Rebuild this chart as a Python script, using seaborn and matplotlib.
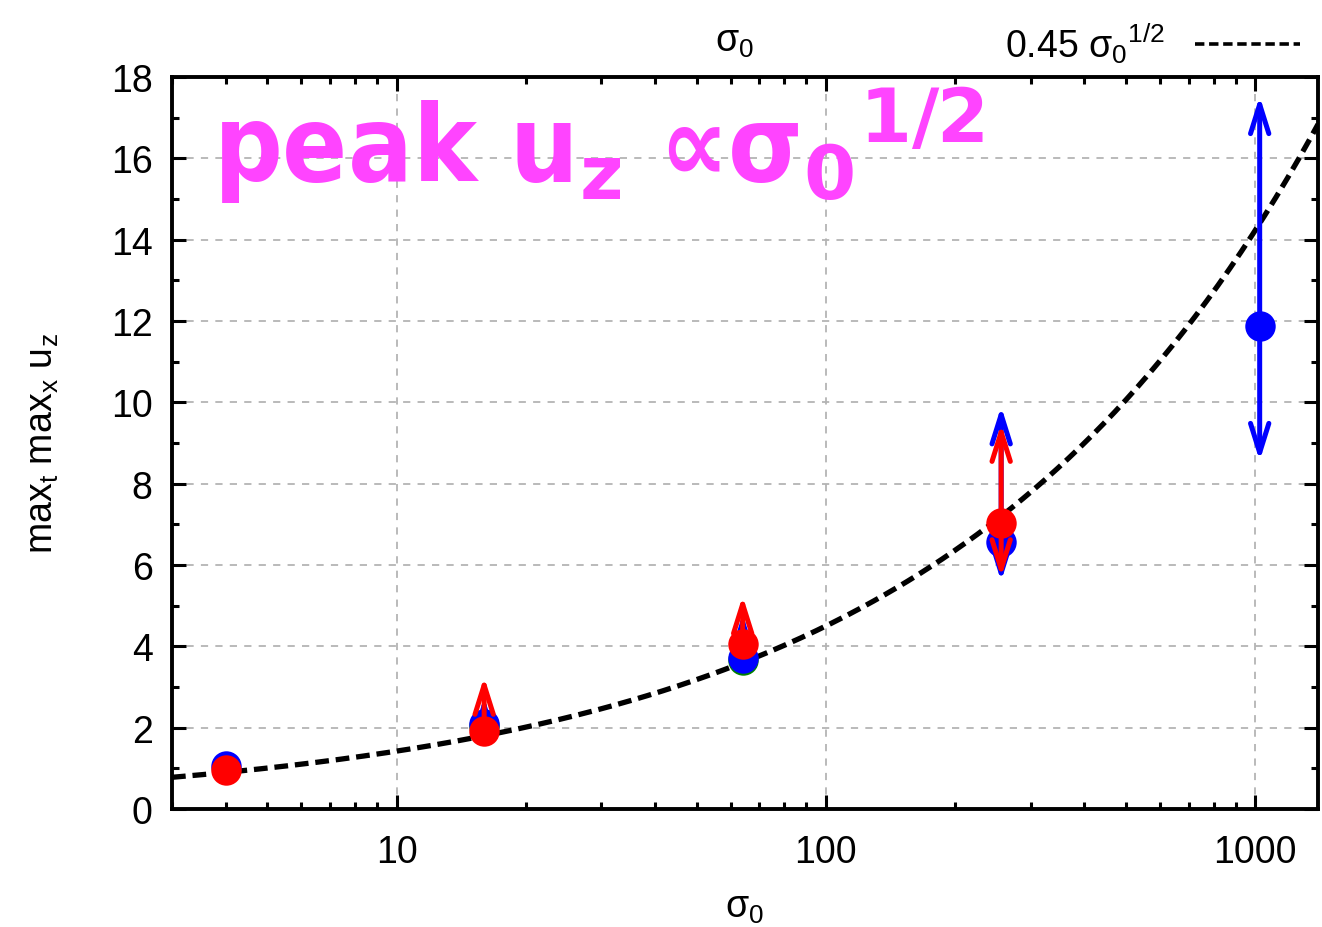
import numpy as np
import pandas as pd
import matplotlib
matplotlib.use("Agg")
import matplotlib.pyplot as plt
import matplotlib.transforms as mtransforms
import seaborn as sns
from matplotlib.ticker import MultipleLocator, LogLocator, FixedLocator, NullFormatter

# ---------------- data ----------------
sigma0 = [4, 16, 64, 256, 1024]

blue_val = [1.06, 2.09, 3.72, 6.57, 11.88]
blue_hi = [1.06, 2.75, 4.80, 9.90, 17.53]
blue_lo = [1.06, 2.09, 3.20, 5.60, 8.56]

red_sigma = [4, 16, 64, 256]
red_val = [0.95, 1.92, 4.06, 7.03]
red_hi = [0.95, 3.25, 5.24, 9.47]
red_lo = [0.95, 1.92, 4.06, 5.70]

green_sigma = [16, 64]
green_val = [2.05, 3.66]

fit_coef = 0.45
fit_sigma = np.logspace(np.log10(3), np.log10(1400), 300)

xticks = [10, 100, 1000]
yticks = [0, 2, 4, 6, 8, 10, 12, 14, 16, 18]

# ---------------- style ----------------
sns.set_style("ticks")
plt.rcParams["font.family"] = ["Liberation Sans", "DejaVu Sans"]
plt.rcParams["mathtext.fontset"] = "custom"
plt.rcParams["mathtext.rm"] = "Liberation Sans"
plt.rcParams["mathtext.it"] = "Liberation Sans:italic"
plt.rcParams["mathtext.bf"] = "DejaVu Sans:bold"
plt.rcParams["text.color"] = "black"
plt.rcParams["axes.labelcolor"] = "black"
plt.rcParams["xtick.color"] = "black"
plt.rcParams["ytick.color"] = "black"

fig = plt.figure(figsize=(13.22, 9.28), dpi=100)
ax = fig.add_axes([172/1322, 1-810/928, (1318-172)/1322, (810-78)/928])

df_fit = pd.DataFrame({"s": fit_sigma, "u": fit_coef*np.sqrt(fit_sigma)})
sns.lineplot(data=df_fit, x="s", y="u", ax=ax, color="black", linewidth=3.8,
             linestyle=(0, (2.6, 1.3)), label=r"0.45 $\mathrm{σ}_0$$^{1/2}$", zorder=3)

df_g = pd.DataFrame({"s": green_sigma, "u": green_val})
df_b = pd.DataFrame({"s": sigma0, "u": blue_val})
df_r = pd.DataFrame({"s": red_sigma, "u": red_val})

ms = 480
sns.scatterplot(data=df_g, x="s", y="u", ax=ax, color="#008000", s=ms, linewidth=0, zorder=4, legend=False)
sns.scatterplot(data=df_b, x="s", y="u", ax=ax, color="#0000ff", s=ms, linewidth=0, zorder=5, legend=False)

def arrows(xs, vals, his, los, color, z):
    for x, v, h, l in zip(xs, vals, his, los):
        for end in (h, l):
            if abs(end - v) > 1e-6:
                ax.annotate("", xy=(x, end), xytext=(x, v),
                            arrowprops=dict(arrowstyle="->,head_length=1.05,head_width=0.33",
                                            color=color, lw=3.6, shrinkA=0, shrinkB=0,
                                            mutation_scale=20),
                            zorder=z)

arrows(sigma0, blue_val, blue_hi, blue_lo, "#0000ff", 6)
arrows(red_sigma, red_val, red_hi, red_lo, "#ff0000", 7)
sns.scatterplot(data=df_r, x="s", y="u", ax=ax, color="#ff0000", s=ms, linewidth=0, zorder=8, legend=False)

ax.set_xscale("log")
ax.set_xlim(3, 1400)
ax.set_ylim(0, 18)
ax.xaxis.set_major_locator(FixedLocator(xticks))
ax.set_xticklabels([str(t) for t in xticks])
ax.xaxis.set_minor_locator(LogLocator(base=10, subs=np.arange(2, 10), numticks=20))
ax.xaxis.set_minor_formatter(NullFormatter())
ax.yaxis.set_major_locator(FixedLocator(yticks))
ax.yaxis.set_minor_locator(MultipleLocator(1))

for sp in ax.spines.values():
    sp.set_linewidth(2.8)
    sp.set_visible(True)
    sp.set_color("black")
ax.tick_params(which="both", direction="in", top=True, right=True, width=2.2, color="black")
ax.tick_params(which="major", length=10, labelsize=27)
ax.tick_params(which="minor", length=5)
ax.tick_params(axis="x", which="major", pad=18)
ax.tick_params(axis="y", which="major", pad=14)
ax.grid(True, which="major", color="#b4b4b4", linestyle=(0, (4, 4)), lw=1.3)
ax.set_axisbelow(True)

ax.set_xlabel(r"$\mathrm{σ}_0$", fontsize=27, labelpad=14)
ax.set_ylabel(r"max$_\mathrm{t}$ max$_\mathrm{x}$ u$_\mathrm{z}$", fontsize=27, labelpad=36)

fig.text(735/1322, 1-42/928, r"$\mathrm{σ}_0$", fontsize=27, ha="center", va="center")

leg = ax.legend(loc="center right", bbox_to_anchor=(1300/1322, 1-44/928), bbox_transform=fig.transFigure,
                frameon=False, markerfirst=False, fontsize=27, handlelength=2.8, handletextpad=0.8,
                borderaxespad=0, borderpad=0)
for ln in leg.get_lines():
    ln.set_linewidth(2.6)

trans = mtransforms.blended_transform_factory(ax.transAxes, ax.transData)
ax.text((213-172)/1146, 15.45, r"peak u$_\mathbf{z}$ ∝σ$_\mathbf{0}$$^{\mathbf{1/2}}$",
        transform=trans, fontsize=77, fontweight="bold", color="#ff44ff",
        ha="left", va="baseline", family=["DejaVu Sans"], fontstretch="condensed", zorder=2)

fig.savefig("out.png", dpi=100)
